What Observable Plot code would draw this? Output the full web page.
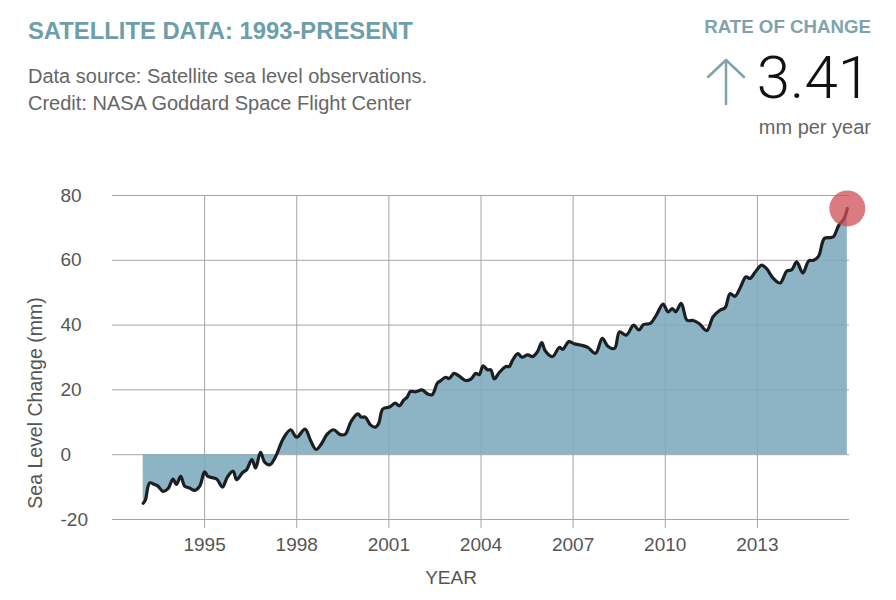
<!DOCTYPE html>
<html>
<head>
<meta charset="utf-8">
<script src="https://cdn.jsdelivr.net/npm/d3@7"></script>
<script src="https://cdn.jsdelivr.net/npm/@observablehq/plot@0.6"></script>
<style>
  html, body { margin: 0; padding: 0; background: #fff; }
  body { width: 896px; height: 600px; position: relative; overflow: hidden; font-family: "Liberation Sans", Arial, sans-serif; }
  .abs { position: absolute; white-space: nowrap; }
  #title { left: 28px; top: 19px; font-size: 23.8px; line-height: 23.8px; font-weight: bold; color: #6d9ea9; }
  #sub { left: 28px; top: 63px; font-size: 20px; line-height: 27px; color: #666; }
  #rate { right: 25px; top: 18px; font-size: 18.7px; line-height: 18.7px; font-weight: bold; color: #7fa3ad; }
  #big { right: 25px; top: 48px; font-size: 60px; line-height: 60px; font-weight: 300; font-family: Roboto, "Liberation Sans", sans-serif; color: #111; }
  #unit { right: 25px; top: 117px; font-size: 20px; line-height: 20px; color: #666; }
  #arrow { left: 704px; top: 57px; }
  #ylab { left: 35px; top: 403px; transform: translate(-50%, -50%) rotate(-90deg); font-size: 19.5px; color: #555; }
  #xlab { left: 451px; top: 578px; transform: translate(-50%, -50%); font-size: 19px; color: #555; }
  #chart { position: absolute; left: 0; top: 160px; }
</style>
</head>
<body>
<div id="title" class="abs">SATELLITE DATA: 1993-PRESENT</div>
<div id="sub" class="abs">Data source: Satellite sea level observations.<br>Credit: NASA Goddard Space Flight Center</div>
<div id="rate" class="abs">RATE OF CHANGE</div>
<svg id="arrow" class="abs" width="44" height="50" viewBox="0 0 44 50">
  <path d="M22 3 L22 47 M4 20 L22 3 L40 20" fill="none" stroke="#7fa3ad" stroke-width="2.5" stroke-linecap="round" stroke-linejoin="round"/>
</svg>
<div id="big" class="abs">3.41</div>
<div id="unit" class="abs">mm per year</div>
<div id="ylab" class="abs">Sea Level Change (mm)</div>
<div id="xlab" class="abs">YEAR</div>
<div id="chart"></div>
<script>
const years = [
  1993.00, 1993.07, 1993.21, 1993.37, 1993.48, 1993.64, 1993.81, 1993.97, 1994.08, 1994.22,
  1994.35, 1994.51, 1994.68, 1994.84, 1995.00, 1995.11, 1995.39, 1995.58, 1995.74, 1995.93,
  1996.04, 1996.24, 1996.37, 1996.54, 1996.66, 1996.82, 1996.96, 1997.13, 1997.29, 1997.57,
  1997.80, 1998.00, 1998.27, 1998.45, 1998.63, 1998.82, 1998.98, 1999.20, 1999.42, 1999.58,
  1999.77, 1999.99, 2000.10, 2000.23, 2000.40, 2000.56, 2000.67, 2000.80, 2001.02, 2001.21,
  2001.34, 2001.49, 2001.59, 2001.70, 2001.87, 2002.08, 2002.25, 2002.41, 2002.58, 2002.68,
  2002.85, 2002.96, 2003.12, 2003.28, 2003.50, 2003.67, 2003.83, 2003.94, 2004.07, 2004.21,
  2004.32, 2004.43, 2004.59, 2004.81, 2004.92, 2005.03, 2005.20, 2005.33, 2005.52, 2005.68,
  2005.84, 2005.98, 2006.09, 2006.33, 2006.55, 2006.66, 2006.86, 2007.04, 2007.26, 2007.48,
  2007.73, 2007.95, 2008.13, 2008.35, 2008.51, 2008.73, 2008.97, 2009.14, 2009.30, 2009.51,
  2009.71, 2009.93, 2010.09, 2010.23, 2010.34, 2010.52, 2010.71, 2010.91, 2011.10, 2011.35,
  2011.56, 2011.78, 2011.95, 2012.11, 2012.27, 2012.43, 2012.63, 2012.76, 2012.93, 2013.14,
  2013.30, 2013.52, 2013.74, 2013.96, 2014.12, 2014.28, 2014.48, 2014.67, 2014.83, 2014.99,
  2015.18, 2015.38, 2015.48, 2015.65, 2015.82, 2015.93
];
const values = [
  -15.0, -14.0, -8.7, -9.2, -9.7, -11.3, -10.5, -7.5, -9.2, -6.7,
  -9.7, -10.3, -11.0, -9.7, -5.3, -6.7, -7.5, -10.0, -6.9, -5.1,
  -7.7, -5.5, -4.6, -1.5, -4.1, 0.7, -2.4, -3.1, -1.0, 5.1,
  7.7, 5.4, 7.9, 4.4, 1.6, 3.6, 6.2, 7.7, 6.2, 6.3,
  10.3, 12.6, 11.6, 11.6, 9.2, 8.5, 9.7, 14.1, 14.7, 15.9,
  15.1, 16.9, 17.7, 19.5, 19.4, 20.0, 18.8, 18.5, 22.1, 22.8,
  23.9, 23.5, 25.1, 24.3, 22.9, 23.3, 25.1, 24.7, 27.4, 26.2,
  26.2, 23.4, 25.3, 27.2, 27.2, 29.2, 31.2, 30.1, 30.8, 30.3,
  31.8, 34.6, 32.1, 30.3, 33.1, 32.5, 34.9, 34.2, 33.8, 33.1,
  31.3, 35.9, 33.5, 32.8, 37.9, 36.9, 40.0, 38.5, 40.2, 40.5,
  43.1, 46.5, 44.1, 45.1, 44.1, 46.7, 41.5, 41.4, 40.5, 38.3,
  42.6, 44.6, 45.4, 49.7, 48.9, 51.3, 54.9, 54.4, 56.4, 58.5,
  57.4, 54.4, 53.0, 56.7, 57.1, 59.5, 56.1, 59.8, 60.0, 61.2,
  66.7, 67.0, 67.3, 70.8, 72.8, 76.0
];
const xTicks = [1995, 1998, 2001, 2004, 2007, 2010, 2013];
const yTicks = [-20, 0, 20, 40, 60, 80];

const data = years.map((y, i) => ({year: y, value: values[i]}));

const chart = Plot.plot({
  width: 896,
  height: 440,
  marginTop: 35,
  marginBottom: 81,
  marginLeft: 112,
  marginRight: 47,
  x: {domain: [1992, 2016]},
  y: {domain: [-20, 80]},
  style: {fontFamily: "'Liberation Sans', Arial, sans-serif", fontSize: "19px", color: "#555", background: "transparent"},
  marks: [
    Plot.gridY(yTicks, {stroke: "#a5a5a5", strokeOpacity: 1}),
    Plot.gridX(xTicks, {stroke: "#a5a5a5", strokeOpacity: 1}),
    Plot.areaY(data, {x: "year", y1: 0, y2: "value", fill: "#7caabc", fillOpacity: 0.88, curve: "catmull-rom"}),
    Plot.lineY(data, {x: "year", y: "value", stroke: "#1b1f22", strokeWidth: 3.2, curve: "catmull-rom"}),
    Plot.dot(data.slice(-1), {x: "year", y: "value", r: 18, fill: "#cf4f55", fillOpacity: 0.75, stroke: "none"}),
    Plot.axisY(yTicks, {tickSize: 0, tickPadding: 52, textAnchor: "start", tickFormat: d => String(d), label: null}),
    Plot.axisX(xTicks, {tickSize: 9, tickPadding: 9, tickFormat: d => String(d), label: null, stroke: "#a5a5a5"})
  ]
});
document.getElementById("chart").appendChild(chart);
</script>
</body>
</html>
